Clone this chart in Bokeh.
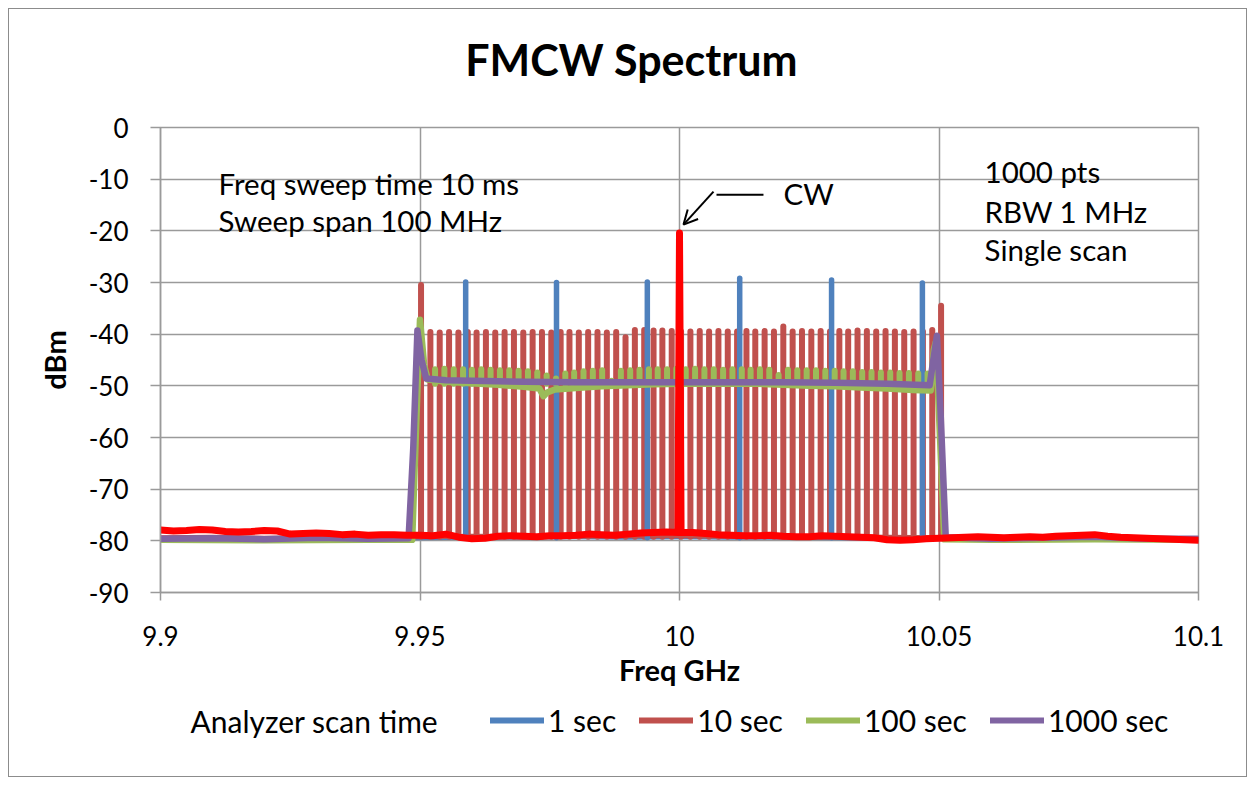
from bokeh.plotting import figure
from bokeh.layouts import column
from bokeh.models import (Label, Arrow, OpenHead, FixedTicker, Legend, LegendItem, Range1d)
from bokeh.embed import file_html
from bokeh.resources import INLINE

FONT = "Lato"

# ---------------- data ----------------
chart_title = "FMCW Spectrum"
x_ticks = [9.9, 9.95, 10, 10.05, 10.1]
x_tick_labels = ["9.9", "9.95", "10", "10.05", "10.1"]
y_ticks = [0, -10, -20, -30, -40, -50, -60, -70, -80, -90]
y_tick_labels = ["0", "-10", "-20", "-30", "-40", "-50", "-60", "-70", "-80", "-90"]

series_names = ["1 sec", "10 sec", "100 sec", "1000 sec"]

base_freq = [9.90, 9.91, 9.92, 9.93, 9.94, 9.95, 9.96, 9.97, 9.98, 9.99, 10.00,
             10.01, 10.02, 10.03, 10.04, 10.05, 10.06, 10.07, 10.08, 10.09, 10.10]
blue_base_dbm = [-79.6, -79.5, -79.7, -79.6, -79.5, -79.4, -79.3, -79.3, -79.2, -79.3, -79.2,
                 -79.3, -79.3, -79.4, -79.5, -79.5, -79.6, -79.7, -79.5, -79.6, -79.7]
red_base_dbm = [-79.4, -79.3, -79.5, -79.4, -79.3, -79.2, -79.1, -79.2, -79.1, -79.0, -79.0,
                -79.1, -79.2, -79.2, -79.3, -79.4, -79.5, -79.4, -79.3, -79.5, -79.6]

blue_spike_freq = [9.9588, 9.9763, 9.9938, 10.0116, 10.0293, 10.0468]
blue_spike_dbm = [-29.9, -30.0, -29.9, -29.2, -29.5, -30.1]

red_tooth_freq = [9.9502, 9.9520, 9.9538, 9.9556, 9.9574, 9.9592, 9.9609, 9.9627, 9.9645, 9.9663,
                  9.9681, 9.9699, 9.9717, 9.9735, 9.9753, 9.9771, 9.9788, 9.9806, 9.9824, 9.9842,
                  9.9860, 9.9878, 9.9896, 9.9914, 9.9932, 9.9950, 9.9967, 9.9985, 10.0003, 10.0021,
                  10.0039, 10.0057, 10.0075, 10.0093, 10.0111, 10.0129, 10.0146, 10.0164, 10.0182, 10.0200,
                  10.0218, 10.0236, 10.0254, 10.0272, 10.0290, 10.0308, 10.0325, 10.0343, 10.0361, 10.0379,
                  10.0397, 10.0415, 10.0433, 10.0451, 10.0469, 10.0487, 10.0504]
red_tooth_dbm = [-30.5, -39.6, -39.7, -39.6, -39.7, -39.6, -39.7, -39.6, -39.7, -39.6,
                 -39.6, -39.7, -39.6, -39.6, -39.7, -39.6, -39.6, -39.7, -39.6, -39.6,
                 -39.7, -39.6, -40.6, -39.2, -39.2, -39.3, -39.3, -39.4, -39.5, -39.5,
                 -39.4, -39.5, -39.4, -39.5, -39.5, -39.4, -39.5, -39.4, -39.5, -38.5,
                 -39.5, -39.4, -39.5, -39.4, -39.5, -39.4, -39.5, -39.3, -39.4, -39.5,
                 -39.4, -39.5, -39.6, -39.5, -39.5, -39.2, -34.5]

green_freq = [9.900, 9.920, 9.940, 9.9485, 9.9490, 9.9500, 9.9508, 9.9515, 9.955, 9.960,
              9.965, 9.970, 9.9730, 9.9738, 9.9745, 9.976, 9.980, 9.985, 9.990, 9.995,
              10.000, 10.005, 10.010, 10.015, 10.020, 10.025, 10.030, 10.035, 10.040, 10.045,
              10.0484, 10.0490, 10.0494, 10.0502, 10.0510, 10.060, 10.080, 10.100]
green_dbm = [-79.8, -79.9, -79.8, -79.8, -65.0, -37.2, -46.0, -48.8, -49.2, -49.5,
             -49.8, -50.2, -50.5, -52.0, -51.3, -50.7, -50.4, -50.1, -49.9, -49.7,
             -49.6, -49.6, -49.6, -49.6, -49.8, -50.0, -50.1, -50.3, -50.5, -50.8,
             -50.9, -43.0, -41.5, -60.0, -79.7, -79.8, -79.7, -79.8]

green_bump_freq = [9.9529, 9.9547, 9.9565, 9.9583, 9.9600, 9.9618, 9.9636, 9.9654, 9.9672, 9.9690,
                   9.9708, 9.9726, 9.9744, 9.9762, 9.9780, 9.9797, 9.9815, 9.9833, 9.9851, 9.9869,
                   9.9887, 9.9905, 9.9923, 9.9941, 9.9958, 9.9976, 9.9994, 10.0012, 10.0030, 10.0048,
                   10.0066, 10.0084, 10.0102, 10.0120, 10.0137, 10.0155, 10.0173, 10.0191, 10.0209, 10.0227,
                   10.0245, 10.0263, 10.0281, 10.0299, 10.0316, 10.0334, 10.0352, 10.0370, 10.0388, 10.0406,
                   10.0424, 10.0442, 10.0460, 10.0478]
green_bump_dbm = [-46.8, -46.7, -46.8, -46.8, -46.9, -46.8, -46.9, -47.0, -47.0, -47.1,
                  -47.2, -47.4, -48.0, -48.6, -47.6, -47.4, -47.2, -47.1, -47.0, -49.0,
                  -47.1, -47.0, -46.9, -46.8, -46.8, -46.8, -46.7, -46.8, -46.7, -46.8,
                  -46.8, -46.9, -46.8, -46.8, -46.9, -46.8, -46.9, -47.9, -46.9, -47.0,
                  -47.0, -47.0, -47.1, -47.1, -47.2, -47.2, -47.3, -47.3, -47.4, -47.4,
                  -47.5, -47.5, -47.6, -47.6]
green_bump_floor = -49.6

purple_freq = [9.900, 9.910, 9.920, 9.930, 9.940, 9.9478, 9.9487, 9.9495, 9.9503, 9.9512,
               9.955, 9.960, 9.970, 9.980, 9.990, 10.000, 10.010, 10.020, 10.030, 10.040,
               10.0482, 10.0489, 10.0496, 10.0503, 10.0513, 10.060, 10.070, 10.080, 10.090, 10.100]
purple_dbm = [-79.6, -79.5, -79.7, -79.4, -79.6, -79.5, -62.0, -39.3, -45.0, -48.6,
              -48.9, -49.0, -49.2, -49.3, -49.3, -49.3, -49.3, -49.3, -49.4, -49.6,
              -49.9, -45.0, -40.3, -55.0, -79.3, -79.6, -79.4, -79.2, -79.6, -79.6]

cw_freq = [9.9000, 9.9025, 9.9050, 9.9075, 9.9100, 9.9125, 9.9150, 9.9175, 9.9200, 9.9225,
           9.9250, 9.9275, 9.9300, 9.9325, 9.9350, 9.9375, 9.9400, 9.9425, 9.9450, 9.9475,
           9.9500, 9.9525, 9.9550, 9.9575, 9.9600, 9.9625, 9.9650, 9.9675, 9.9700, 9.9725,
           9.9750, 9.9775, 9.9800, 9.9825, 9.9850, 9.9875, 9.9900, 9.9925, 9.9950, 9.9975,
           9.9997, 10.0000, 10.0003, 10.0025, 10.0050, 10.0075, 10.0100, 10.0125, 10.0150, 10.0175,
           10.0200, 10.0225, 10.0250, 10.0275, 10.0300, 10.0325, 10.0350, 10.0375, 10.0400, 10.0425,
           10.0450, 10.0475, 10.0500, 10.0525, 10.0550, 10.0575, 10.0600, 10.0625, 10.0650, 10.0675,
           10.0700, 10.0725, 10.0750, 10.0775, 10.0800, 10.0825, 10.0850, 10.0875, 10.0900, 10.0925,
           10.0950, 10.0975, 10.1000]
cw_dbm = [-77.9, -78.1, -78.0, -77.8, -77.9, -78.2, -78.3, -78.2, -78.0, -78.1,
          -78.7, -78.6, -78.5, -78.6, -78.8, -78.7, -78.9, -78.8, -78.8, -78.9,
          -78.9, -79.0, -78.7, -79.3, -79.6, -79.5, -79.1, -79.0, -79.1, -79.2,
          -79.0, -79.0, -78.9, -78.7, -78.8, -78.9, -78.7, -78.5, -78.4, -78.3,
          -78.4, -20.4, -78.4, -78.4, -78.6, -78.8, -78.9, -79.0, -79.0, -78.9,
          -79.1, -79.2, -79.2, -79.0, -79.1, -79.2, -79.3, -79.4, -79.8, -79.9,
          -79.8, -79.6, -79.5, -79.4, -79.3, -79.2, -79.3, -79.4, -79.3, -79.2,
          -79.3, -79.1, -79.0, -78.9, -78.8, -79.1, -79.3, -79.4, -79.5, -79.6,
          -79.7, -79.8, -79.9]

# ---------------- styling ----------------
C_BLUE = "#4F81BD"
C_RED = "#C0504D"
C_GREEN = "#9BBB59"
C_PURPLE = "#8064A2"
C_CW = "#FF0000"
GRID = "#9a9a9a"
W = 1237
FRAME_W = 1038
TH = 95   # title strip height
LH = 80   # legend strip height


def add_label(fig, x, y, text, size="30px", align="left", bold=False):
    fig.add_layout(Label(x=x, y=y, text=text, text_font=FONT, text_font_size=size,
                         text_align=align, text_baseline="middle", text_color="black",
                         text_font_style="bold" if bold else "normal"))


def strip(height):
    f = figure(width=W, height=height, x_range=Range1d(0, FRAME_W), y_range=Range1d(0, height),
               output_backend="svg", toolbar_location=None, title=None,
               x_axis_type=None, y_axis_type=None, min_border=0)
    f.outline_line_color = None
    f.background_fill_color = "white"
    f.border_fill_color = "white"
    return f


# ---------------- title strip ----------------
pt = strip(TH)
add_label(pt, 471, 45, chart_title, size="43px", align="center", bold=True)

# ---------------- main chart ----------------
p = figure(width=W, height=592, x_range=Range1d(9.9, 10.1), y_range=Range1d(-90, 0),
           output_backend="svg", toolbar_location=None, title=None,
           min_border_left=151, min_border_right=48, min_border_top=23, min_border_bottom=104)
p.background_fill_color = "white"
p.border_fill_color = "white"
p.outline_line_color = GRID
p.outline_line_width = 1.5

p.xaxis.ticker = FixedTicker(ticks=x_ticks)
p.xaxis.major_label_overrides = dict(zip(x_ticks, x_tick_labels))
p.yaxis.ticker = FixedTicker(ticks=y_ticks)
p.yaxis.major_label_overrides = dict(zip(y_ticks, y_tick_labels))
p.xgrid.ticker = FixedTicker(ticks=x_ticks)
p.ygrid.ticker = FixedTicker(ticks=y_ticks)
for ax in (p.xaxis[0], p.yaxis[0]):
    ax.axis_line_color = GRID
    ax.axis_line_width = 1.5
    ax.major_tick_line_color = GRID
    ax.major_tick_line_width = 1.5
    ax.major_tick_in = 0
    ax.minor_tick_line_color = None
    ax.major_label_text_font = FONT
    ax.major_label_text_font_size = "26px"
    ax.major_label_text_color = "black"
    ax.axis_label_text_font = FONT
    ax.axis_label_text_font_size = "29px"
    ax.axis_label_text_font_style = "bold"
    ax.axis_label_text_color = "black"
p.xaxis.axis_label = "Freq GHz"
p.yaxis.axis_label = "dBm"
p.xaxis.major_tick_out = 8
p.yaxis.major_tick_out = 10
p.xaxis.major_label_standoff = 25
p.xaxis.axis_label_standoff = 3
p.yaxis.major_label_standoff = 22
p.yaxis.axis_label_standoff = 14
for g in (p.xgrid[0], p.ygrid[0]):
    g.grid_line_color = GRID
    g.grid_line_width = 1.5

# series (drawn in Excel order)
p.line(base_freq, blue_base_dbm, line_color=C_BLUE, line_width=5, line_cap="round", line_join="round")
p.line(base_freq, red_base_dbm, line_color=C_RED, line_width=5, line_cap="round", line_join="round")
p.segment(x0=red_tooth_freq, y0=[red_base_dbm[5]] * len(red_tooth_freq), x1=red_tooth_freq, y1=red_tooth_dbm,
          line_color=C_RED, line_width=6, line_cap="round")
p.segment(x0=blue_spike_freq, y0=[blue_base_dbm[5]] * len(blue_spike_freq), x1=blue_spike_freq, y1=blue_spike_dbm,
          line_color=C_BLUE, line_width=5.5, line_cap="round")
p.segment(x0=green_bump_freq, y0=[green_bump_floor] * len(green_bump_freq), x1=green_bump_freq, y1=green_bump_dbm,
          line_color=C_GREEN, line_width=6, line_cap="round")
p.line(green_freq, green_dbm, line_color=C_GREEN, line_width=6.5, line_cap="round", line_join="round")
p.line(purple_freq, purple_dbm, line_color=C_PURPLE, line_width=6.5, line_cap="round", line_join="round")
p.line(cw_freq, cw_dbm, line_color=C_CW, line_width=7, line_cap="round", line_join="round")

add_label(p, 9.91118, -10.8, "Freq sweep time 10 ms", size="29.5px")
add_label(p, 9.91118, -18.0, "Sweep span 100 MHz", size="29.5px")
add_label(p, 10.05877, -8.5, "1000 pts", size="29.5px")
add_label(p, 10.05877, -16.2, "RBW 1 MHz", size="29.5px")
add_label(p, 10.05877, -23.6, "Single scan", size="29.5px")
add_label(p, 10.02004, -12.8, "CW", size="29.5px")

# CW pointer
p.add_layout(Arrow(end=None, x_start=10.00713, y_start=-13.0, x_end=10.01618, y_end=-13.0,
                   line_color="black", line_width=2))
p.add_layout(Arrow(end=OpenHead(size=14, line_color="black", line_width=2),
                   x_start=10.00655, y_start=-12.4, x_end=10.00077, y_end=-18.8,
                   line_color="black", line_width=2))

# ---------------- legend strip ----------------
nan = float("nan")
pl = strip(LH)
swatches = [pl.line(x=[nan, nan], y=[nan, nan], line_color=c, line_width=6, line_cap="round")
            for c in (C_BLUE, C_RED, C_GREEN, C_PURPLE)]
legend = Legend(items=[LegendItem(label=n, renderers=[r]) for n, r in zip(series_names, swatches)],
                orientation="horizontal", location=(330, 38), padding=0, margin=0,
                spacing=23, glyph_width=54, glyph_height=20, label_standoff=4, label_height=30,
                label_text_font=FONT, label_text_font_size="30px", label_text_color="black",
                border_line_color=None, background_fill_alpha=0)
pl.add_layout(legend, "center")
add_label(pl, 30, 56, "Analyzer scan time")

layout = column(pt, p, pl, spacing=0,
                styles={"border": "1px solid #8c8c8c", "margin-left": "8px", "margin-top": "8px"})

open("out.html", "w").write(file_html(layout, INLINE))
